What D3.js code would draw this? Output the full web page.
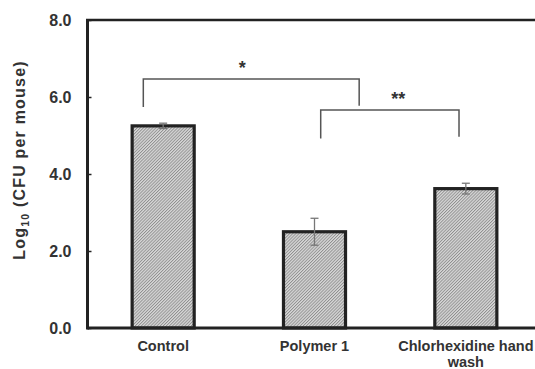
<!DOCTYPE html>
<html><head><meta charset="utf-8">
<script src="https://cdn.jsdelivr.net/npm/d3@7"></script>
<style>html,body{margin:0;padding:0;background:#fff;} svg{display:block;}</style>
</head><body>
<svg id="chart" width="535" height="369"></svg>
<script>
const categories = ["Control", "Polymer 1", "Chlorhexidine hand wash"];
const labelLines = [["Control"], ["Polymer 1"], ["Chlorhexidine hand", "wash"]];
const means = [5.25, 2.50, 3.62];
const errors = [0.07, 0.35, 0.14];
const yTicks = [0, 2, 4, 6, 8];
// significance brackets: from, to, top value, left leg bottom, right leg bottom, label
const bracketFrom = [0, 1];
const bracketTo = [1, 2];
const bracketTop = [6.47, 5.66];
const bracketLeftEnd = [5.74, 4.92];
const bracketRightEnd = [5.77, 4.97];
const bracketLabels = ["*", "**"];
// horizontal offsets of bracket ends, as fractions of band width
const bracketLeftOff = [-0.32, 0.10];
const bracketRightOff = [0.72, -0.11];
const starShift = [-9, 8.5];

const svg = d3.select("#chart");
const W = 535, H = 369;
const mLeft = 87.5, mTop = 20, mBottom = 328;

const x = d3.scaleBand().domain(categories).range([mLeft, 541.5]).paddingInner(0.59).paddingOuter(0.295);
const y = d3.scaleLinear().domain([0, 8]).range([mBottom, mTop]);

const defs = svg.append("defs");
const pat = defs.append("pattern").attr("id", "hatch").attr("patternUnits", "userSpaceOnUse")
  .attr("width", 2.2).attr("height", 2.2).attr("patternTransform", "rotate(45)");
pat.append("rect").attr("width", 2.2).attr("height", 2.2).attr("fill", "#d8d8d8");
pat.append("rect").attr("width", 0.9).attr("height", 2.2).attr("fill", "#8e8e8e");

// bars
svg.selectAll("rect.bar").data(categories).join("rect").attr("class", "bar")
  .attr("x", d => x(d)).attr("width", x.bandwidth())
  .attr("y", (d, i) => y(means[i])).attr("height", (d, i) => y(0) - y(means[i]))
  .attr("fill", "url(#hatch)").attr("stroke", "#222").attr("stroke-width", 3.2);

// error bars
const eb = svg.append("g").attr("stroke", "#777").attr("stroke-width", 1.3).attr("fill", "none");
categories.forEach((c, i) => {
  const cx = x(c) + x.bandwidth() / 2;
  eb.append("line").attr("x1", cx).attr("x2", cx).attr("y1", y(means[i] + errors[i])).attr("y2", y(means[i] - errors[i]));
  [1, -1].forEach(s => eb.append("line").attr("x1", cx - 4).attr("x2", cx + 4)
    .attr("y1", y(means[i] + s * errors[i])).attr("y2", y(means[i] + s * errors[i])));
});

// axes
const yAxis = d3.axisLeft(y).tickValues(yTicks).tickFormat(d3.format(".1f")).tickSizeInner(-4).tickSizeOuter(0).tickPadding(16);
const ga = svg.append("g").attr("transform", `translate(${mLeft},0)`).call(yAxis);
ga.select(".domain").remove();
ga.selectAll(".tick line").attr("stroke", "#222").attr("stroke-width", 1.5);
ga.selectAll(".tick text").attr("font-family", "Liberation Sans, Arial, sans-serif")
  .attr("font-weight", "bold").attr("font-size", 16).attr("fill", "#333").attr("dy", "0.36em");

const xAxis = d3.axisBottom(x).tickSize(0).tickFormat("");
const gx = svg.append("g").attr("transform", `translate(0,${mBottom})`).call(xAxis);
gx.select(".domain").remove();
gx.selectAll(".tick").each(function(d, i) {
  const t = d3.select(this).append("text").attr("fill", "#333")
    .attr("font-family", "Liberation Sans, Arial, sans-serif").attr("font-weight", "bold")
    .attr("font-size", 14.5).attr("text-anchor", "middle");
  labelLines[i].forEach((ln, k) => t.append("tspan").attr("x", 0).attr("y", 23 + k * 15.5).text(ln));
});

// frame lines
svg.append("line").attr("x1", mLeft).attr("x2", W).attr("y1", mBottom).attr("y2", mBottom).attr("stroke", "#222").attr("stroke-width", 3);
svg.append("line").attr("x1", mLeft).attr("x2", mLeft).attr("y1", mTop - 1).attr("y2", mBottom + 1.5).attr("stroke", "#222").attr("stroke-width", 3);
svg.append("line").attr("x1", mLeft - 1.5).attr("x2", W).attr("y1", mTop).attr("y2", mTop).attr("stroke", "#222").attr("stroke-width", 2.5);

// brackets
const bg = svg.append("g");
bracketFrom.forEach((f, i) => {
  const bw = x.bandwidth();
  const x1 = x(categories[f]) + bw / 2 + bracketLeftOff[i] * bw;
  const x2 = x(categories[bracketTo[i]]) + bw / 2 + bracketRightOff[i] * bw;
  bg.append("path").attr("fill", "none").attr("stroke", "#555").attr("stroke-width", 1.5)
    .attr("d", `M${x1},${y(bracketLeftEnd[i])}V${y(bracketTop[i])}H${x2}V${y(bracketRightEnd[i])}`);
  bg.append("text").attr("x", (x1 + x2) / 2 + starShift[i]).attr("y", y(bracketTop[i]) - 5)
    .attr("text-anchor", "middle").attr("font-family", "Liberation Sans, Arial, sans-serif")
    .attr("font-weight", "bold").attr("font-size", 18).attr("fill", "#333").text(bracketLabels[i]);
});

// y label
const yl = svg.append("text").attr("transform", `translate(25,160) rotate(-90)`)
  .attr("text-anchor", "middle").attr("font-family", "Liberation Sans, Arial, sans-serif")
  .attr("font-weight", "bold").attr("font-size", 16).attr("fill", "#333").attr("letter-spacing", 1.2);
yl.append("tspan").text("Log");
yl.append("tspan").attr("font-size", 10.5).attr("dy", 4).text("10");
yl.append("tspan").attr("dy", -4).text(" (CFU per mouse)");
</script>
</body></html>
